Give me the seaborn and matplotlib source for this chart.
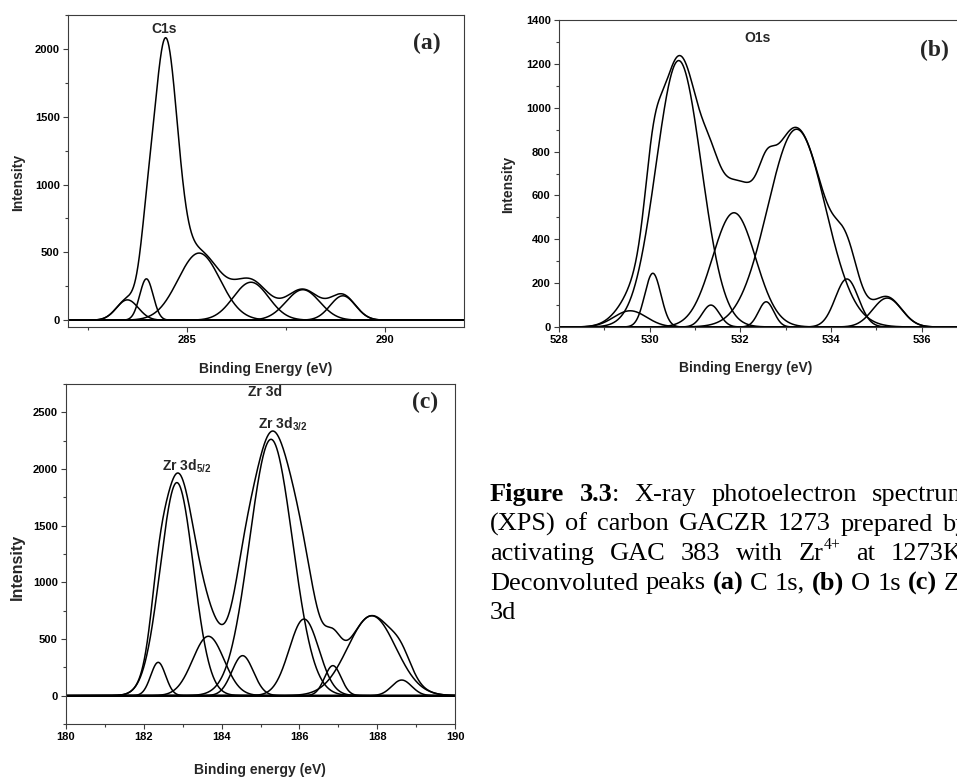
import numpy as np
import pandas as pd
import matplotlib
matplotlib.use("Agg")
import matplotlib.pyplot as plt
from matplotlib.ticker import MultipleLocator
from matplotlib.transforms import IdentityTransform
import seaborn as sns

# ---- C 1s deconvolution (a): peak centre (eV), height (counts), FWHM (eV)
c1s_center = [283.50, 283.98, 284.45, 285.31, 286.62, 287.93, 288.94]
c1s_height = [150, 305, 1940, 495, 280, 225, 180]
c1s_fwhm = [0.65, 0.40, 0.72, 1.25, 1.05, 1.00, 0.75]

# ---- O 1s deconvolution (b)
o1s_center = [529.57, 530.07, 530.64, 531.35, 531.86, 532.57, 533.24, 534.35, 535.24]
o1s_height = [74, 245, 1215, 100, 521, 115, 902, 219, 132]
o1s_fwhm = [0.85, 0.42, 1.18, 0.45, 1.12, 0.40, 1.50, 0.60, 0.75]

# ---- Zr 3d deconvolution (c)
zr_center = [182.37, 182.85, 183.66, 184.54, 185.27, 186.12, 186.86, 187.86, 188.63]
zr_height = [294, 1880, 524, 353, 2262, 676, 265, 705, 138]
zr_fwhm = [0.45, 1.00, 0.95, 0.65, 1.30, 0.90, 0.50, 1.45, 0.60]

# ---- caption text: words made of (text, weight, superscript) runs
caption_lines = [
    [[("Figure", "bold", 0)], [("3.3", "bold", 0), (":", "normal", 0)],
     [("X-ray", "normal", 0)], [("photoelectron", "normal", 0)], [("spectrum", "normal", 0)]],
    [[("(XPS)", "normal", 0)], [("of", "normal", 0)], [("carbon", "normal", 0)],
     [("GACZR", "normal", 0)], [("1273", "normal", 0)], [("prepared", "normal", 0)],
     [("by", "normal", 0)]],
    [[("activating", "normal", 0)], [("GAC", "normal", 0)], [("383", "normal", 0)],
     [("with", "normal", 0)], [("Zr", "normal", 0), ("4+", "normal", 1)], [("at", "normal", 0)],
     [("1273K.", "normal", 0)]],
    [[("Deconvoluted", "normal", 0)], [("peaks", "normal", 0)], [("(a)", "bold", 0)],
     [("C", "normal", 0)], [("1s,", "normal", 0)], [("(b)", "bold", 0)], [("O", "normal", 0)],
     [("1s", "normal", 0)], [("(c)", "bold", 0)], [("Zr", "normal", 0)]],
    [[("3d", "normal", 0)]],
]

W, H = 957, 778

sns.set_theme(style="ticks")
plt.rcParams.update({
    "font.family": ["Liberation Sans", "DejaVu Sans"],
    "font.weight": "bold",
    "axes.labelweight": "bold",
    "mathtext.fontset": "custom",
    "mathtext.rm": "Liberation Sans:bold",
    "mathtext.bf": "Liberation Sans:bold",
    "axes.edgecolor": "#3c3c3c",
    "axes.linewidth": 0.8,
    "axes.facecolor": "white",
    "xtick.color": "#3c3c3c",
    "ytick.color": "#3c3c3c",
    "xtick.labelcolor": "black",
    "ytick.labelcolor": "black",
    "xtick.direction": "out",
    "ytick.direction": "out",
})

fig = plt.figure(figsize=(W / 100, H / 100), dpi=100)
fig.patch.set_facecolor("white")


def px_box(left, top, right, bottom):
    return [left / W, 1 - bottom / H, (right - left) / W, (bottom - top) / H]


def draw_panel(ax, centers, heights, fwhms, xlim, hide_main=False):
    x = np.linspace(xlim[0], xlim[1], 1500)
    comps = [h * np.exp(-4 * np.log(2) * ((x - c) / w) ** 2)
             for c, h, w in zip(centers, heights, fwhms)]
    envelope = np.sum(comps, axis=0)
    frames = [pd.DataFrame({"energy": x, "intensity": envelope, "curve": "fit"})]
    main = int(np.argmax(heights))
    for i, y in enumerate(comps):
        if hide_main and i == main:
            continue
        frames.append(pd.DataFrame({"energy": x, "intensity": y, "curve": f"peak {i + 1}"}))
    df = pd.concat(frames, ignore_index=True)
    sns.lineplot(data=df, x="energy", y="intensity", units="curve", estimator=None,
                 sort=False, color="black", lw=1.1, legend=False, ax=ax)
    ax.set_xlim(*xlim)


def style_axes(ax, xmaj, xmin, ymaj, ymin):
    ax.xaxis.set_major_locator(MultipleLocator(xmaj))
    ax.xaxis.set_minor_locator(MultipleLocator(xmin))
    ax.yaxis.set_major_locator(MultipleLocator(ymaj))
    ax.yaxis.set_minor_locator(MultipleLocator(ymin))
    ax.tick_params(which="major", length=3.5, width=0.8, labelsize=8, pad=2.5)
    ax.tick_params(which="minor", length=2.5, width=0.8)
    for s in ax.spines.values():
        s.set_visible(True)


def place_labels(ax, xlabel, xpos, ypos, xsize, ysize):
    ax.set_xlabel(xlabel, fontsize=xsize, fontweight="bold")
    ax.set_ylabel("Intensity", fontsize=ysize, fontweight="bold")
    ax.xaxis.set_label_coords(xpos[0] / W, 1 - xpos[1] / H, transform=fig.transFigure)
    ax.yaxis.set_label_coords(ypos[0] / W, 1 - ypos[1] / H, transform=fig.transFigure)
    ax.xaxis.label.set_verticalalignment("center")
    ax.yaxis.label.set_verticalalignment("center")


# (a) C 1s
ax_a = fig.add_axes(px_box(68, 15, 464, 327))
draw_panel(ax_a, c1s_center, c1s_height, c1s_fwhm, (282.0, 292.0), hide_main=True)
ax_a.axhline(0, color="black", lw=1.1)
ax_a.set_ylim(-50, 2250)
style_axes(ax_a, 5, 2.5, 500, 250)
place_labels(ax_a, "Binding Energy (eV)", (266, 369), (18, 182), 10, 10)
ax_a.text(284.44, 2150, "C1s", ha="center", va="center", fontsize=10, fontweight="bold")
ax_a.text(291.07, 2040, "(a)", ha="center", va="center", fontsize=17,
          fontweight="bold", family="Liberation Serif")

# (b) O 1s
ax_b = fig.add_axes(px_box(559, 20, 967, 327))
draw_panel(ax_b, o1s_center, o1s_height, o1s_fwhm, (528.0, 537.0))
ax_b.set_ylim(0, 1400)
style_axes(ax_b, 2, 1, 200, 100)
place_labels(ax_b, "Binding Energy (eV)", (746, 368), (508, 184), 10, 10)
ax_b.text(532.37, 1318, "O1s", ha="center", va="center", fontsize=10, fontweight="bold")
ax_b.text(536.28, 1262, "(b)", ha="center", va="center", fontsize=17,
          fontweight="bold", family="Liberation Serif")

# (c) Zr 3d
ax_c = fig.add_axes(px_box(66, 384, 455, 724))
draw_panel(ax_c, zr_center, zr_height, zr_fwhm, (180.0, 190.0))
ax_c.axhline(0, color="black", lw=1.1)
ax_c.set_ylim(-250, 2750)
style_axes(ax_c, 2, 1, 500, 250)
place_labels(ax_c, "Binding energy (eV)", (260, 770), (17, 567), 10, 11.5)
ax_c.text(185.12, 2675, "Zr 3d", ha="center", va="center", fontsize=10, fontweight="bold")
ax_c.text(189.23, 2590, "(c)", ha="center", va="center", fontsize=17,
          fontweight="bold", family="Liberation Serif")
ax_c.text(184.94, 2396, r"Zr 3d$_{3/2}$", ha="left", va="center", fontsize=10, fontweight="bold")
ax_c.text(182.47, 2026, r"Zr 3d$_{5/2}$", ha="left", va="center", fontsize=10, fontweight="bold")

# ---- justified caption to the right of panel (c)
CAP_FONT = "Liberation Serif"
CAP_SIZE = 19
cap_left, cap_right = 490, 969
cap_baselines = [501, 530.5, 560, 589.5, 619]
renderer = fig.canvas.get_renderer()
ident = IdentityTransform()


def text_width(s, size, weight):
    t = fig.text(0, 0, s, fontsize=size, fontweight=weight, family=CAP_FONT, transform=ident)
    w = t.get_window_extent(renderer).width
    t.remove()
    return w


space_w = text_width("a a", CAP_SIZE, "normal") - text_width("aa", CAP_SIZE, "normal")
sup_rise = CAP_SIZE * 100 / 72 * 0.42

for n, (words, base) in enumerate(zip(caption_lines, cap_baselines)):
    built = []
    for word in words:
        runs = []
        for text, weight, sup in word:
            size = CAP_SIZE * 0.6 if sup else CAP_SIZE
            t = fig.text(0, 0, text, fontsize=size, fontweight=weight, family=CAP_FONT,
                         transform=ident, ha="left", va="baseline", color="black")
            runs.append((t, t.get_window_extent(renderer).width, sup))
        built.append(runs)
    widths = [sum(r[1] for r in runs) for runs in built]
    last = n == len(caption_lines) - 1
    gap = space_w if last or len(built) < 2 else (cap_right - cap_left - sum(widths)) / (len(built) - 1)
    x = cap_left
    for runs, w in zip(built, widths):
        for t, rw, sup in runs:
            t.set_position((x, H - base + (sup_rise if sup else 0)))
            x += rw
        x += gap

fig.savefig("out.png", dpi=100, facecolor="white")
